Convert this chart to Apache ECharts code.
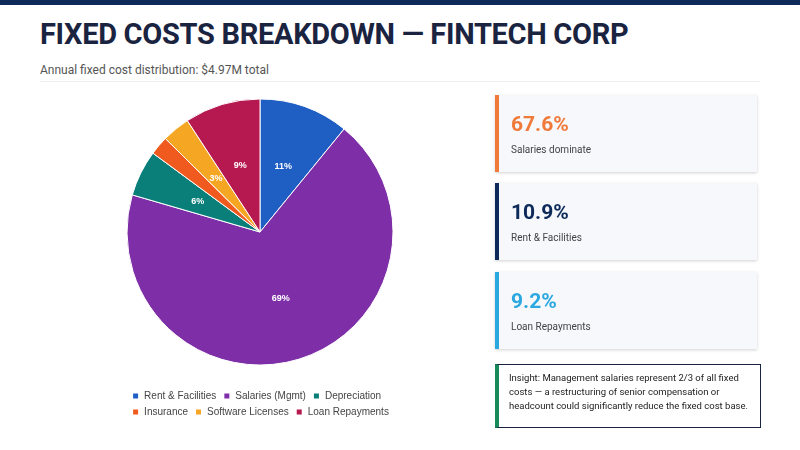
<!DOCTYPE html>
<html lang="en">
<head>
<meta charset="UTF-8">
<title>Fixed Costs Breakdown</title>
<script src="https://cdn.jsdelivr.net/npm/echarts@6/dist/echarts.min.js"></script>
<style>
  body { margin: 0; width: 800px; height: 450px; background: #fff; font-family: Roboto, "Noto Sans", sans-serif; position: relative; overflow: hidden; }
  .topbar { position: absolute; left: 0; top: 0; width: 800px; height: 5px; background: #0d2a5a; }
  h1 { position: absolute; left: 40px; top: 17px; margin: 0; font-size: 29px; font-weight: 700; color: #1a2340; letter-spacing: -0.3px; }
  .sub { position: absolute; left: 40px; top: 63px; font-size: 12px; color: #555; }
  .rule { position: absolute; left: 40px; top: 81px; width: 720px; height: 1px; background: #eceef2; }
  #main { position: absolute; left: 20px; top: 90px; width: 480px; height: 350px; }
  .card { position: absolute; left: 495px; width: 262px; height: 77px; background: #f6f8fc; box-shadow: 0 1px 3px rgba(0,0,0,0.18); box-sizing: border-box; border-left: 4px solid; padding-left: 12px; }
  .card .v { margin-top: 17px; font-size: 21px; font-weight: 700; }
  .card .l { margin-top: 8px; font-size: 10px; color: #444; }
  .insight { position: absolute; left: 495px; top: 364px; width: 266px; height: 64px; background: #fff; border: 1px solid #1a2340; border-left: 4px solid #1a8a5a; box-sizing: border-box; padding: 6px 10px; font-size: 9.5px; line-height: 14px; color: #222; }
</style>
</head>
<body>
<div class="topbar"></div>
<h1>FIXED COSTS BREAKDOWN — FINTECH CORP</h1>
<div class="sub">Annual fixed cost distribution: $4.97M total</div>
<div class="rule"></div>
<div id="main"></div>
<div class="card" style="top:95px;border-color:#f07a3a"><div class="v" style="color:#f07a3a">67.6%</div><div class="l">Salaries dominate</div></div>
<div class="card" style="top:183px;border-color:#0d2a5a"><div class="v" style="color:#0d2a5a">10.9%</div><div class="l">Rent &amp; Facilities</div></div>
<div class="card" style="top:272px;border-color:#2ba8e0"><div class="v" style="color:#2ba8e0">9.2%</div><div class="l">Loan Repayments</div></div>
<div class="insight">Insight: Management salaries represent 2/3 of all fixed costs — a restructuring of senior compensation or headcount could significantly reduce the fixed cost base.</div>
<script>
var categories = ['Rent & Facilities', 'Salaries (Mgmt)', 'Depreciation', 'Insurance', 'Software Licenses', 'Loan Repayments'];
var values = [10.9, 68.6, 5.6, 2.3, 3.4, 9.2];
var colors = ['#1f5fc4', '#7e2fa8', '#0a7f7a', '#f05a1e', '#f5a623', '#b5194f'];

var myChart = echarts.init(document.getElementById('main'));
myChart.setOption({
    color: colors,
    legend: {
        bottom: 18, left: 'center', width: 300,
        itemWidth: 7, itemHeight: 7, icon: 'rect', itemGap: 6,
        textStyle: { fontSize: 10, color: '#444' }
    },
    series: [{
        type: 'pie',
        center: [240, 142],
        radius: 133,
        startAngle: 90,
        itemStyle: { borderColor: '#fff', borderWidth: 1 },
        label: {
            position: 'inside', color: '#fff', fontSize: 9, fontWeight: 'bold',
            formatter: function (p) { return p.percent >= 2.5 ? Math.round(p.percent) + '%' : ''; }
        },
        labelLine: { show: false },
        data: categories.map(function (c, i) { return { name: c, value: values[i] }; })
    }]
});
</script>
</body>
</html>
